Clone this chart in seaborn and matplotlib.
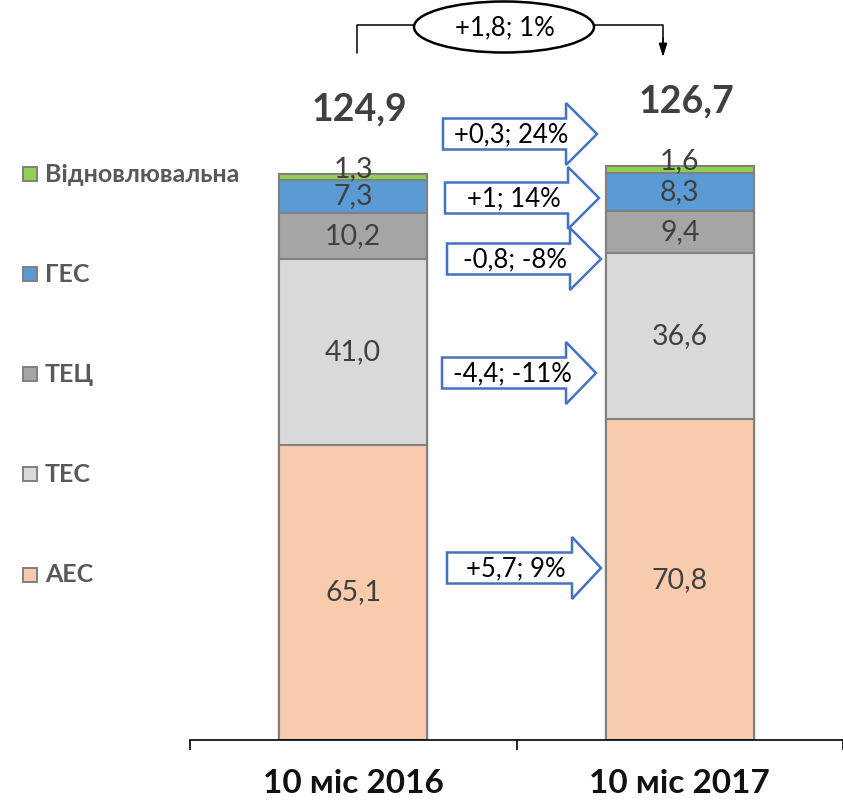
import matplotlib
matplotlib.use("Agg")
import matplotlib.pyplot as plt
import seaborn as sns
import numpy as np
from matplotlib.patches import Polygon, Ellipse, Rectangle, FancyArrowPatch
from matplotlib.transforms import Affine2D
from matplotlib.lines import Line2D

# ---------------- data ----------------
periods = ["10 міс 2016", "10 міс 2017"]
sources = ["АЕС", "ТЕС", "ТЕЦ", "ГЕС", "Відновлювальна"]
aes = [65.1, 70.8]
tes = [41.0, 36.6]
tec = [10.2, 9.4]
ges = [7.3, 8.3]
vidn = [1.3, 1.6]
totals = [124.9, 126.7]
colors = ["#F8CBAD", "#D9D9D9", "#A5A5A5", "#5B9BD5", "#92D050"]
change_labels = ["+5,7; 9%", "-4,4; -11%", "-0,8; -8%", "+1; 14%", "+0,3; 24%"]
total_change = "+1,8; 1%"

series = [aes, tes, tec, ges, vidn]

# ---------------- style ----------------
sns.set_theme(style="white")
FONT = ["Lato", "DejaVu Sans"]
plt.rcParams["font.family"] = FONT

W, H = 843, 801
fig = plt.figure(figsize=(W / 100, H / 100), dpi=100)
fig.patch.set_facecolor("white")
# pixel (top-left origin) -> display transform
T = Affine2D().scale(1 / 100, -1 / 100).translate(0, H / 100) + fig.dpi_scale_trans

AX_L, AX_R, AX_B = 190, 843, 740
PX_PER_UNIT = 4.532
CAT_STEP = 330
ax = fig.add_axes([AX_L / W, (H - AX_B) / H, (AX_R - AX_L) / W, AX_B / H])

# stacked bars drawn as overlapping cumulative bars (tallest first)
cum = np.cumsum(np.array(series), axis=0)
for k in range(len(series) - 1, -1, -1):
    sns.barplot(x=periods, y=cum[k], order=periods, color=colors[k], saturation=1,
                width=150 / CAT_STEP, edgecolor="#808080", linewidth=1.5, ax=ax,
                zorder=2)

def fmt(v):
    return f"{v:.1f}".replace(".", ",")

bottoms = np.zeros(len(periods))
for k, vals in enumerate(series):
    vals = np.array(vals)
    lift = 1.8 if k == len(series) - 1 else 0.0   # thin top segment label sits a bit higher
    for i, (b, v) in enumerate(zip(bottoms, vals)):
        ax.text(i, b + v / 2 + lift, fmt(v), ha="center", va="center", fontsize=20.5,
                color="#404040", zorder=5)
    bottoms = bottoms + vals

# totals above bars
for i, t in enumerate(totals):
    ax.text(i + 0.02, t + 14.3, fmt(t), ha="center", va="center", fontsize=27,
            fontweight="bold", color="#404040")

ax.set_xlim(-0.5, -0.5 + (AX_R - AX_L) / CAT_STEP)
ax.set_ylim(0, AX_B / PX_PER_UNIT)
for s in ["top", "right", "left"]:
    ax.spines[s].set_visible(False)
ax.spines["bottom"].set_color("black")
ax.spines["bottom"].set_linewidth(1.2)
ax.set_yticks([])
ax.set_xticks([0, 1])
ax.set_xticklabels(periods, fontsize=24, fontweight="bold", color="#111111")
ax.tick_params(axis="x", which="major", length=0, pad=21)
ax.set_xticks([-0.5, 0.5, 1.5], minor=True)
ax.tick_params(axis="x", which="minor", length=7.5, width=1.2, color="black",
               direction="out", bottom=True)
ax.set_xlabel("")
ax.set_ylabel("")

# ---------------- legend (left) ----------------
leg_rows_y = [575, 474, 374, 274, 174]
for name, col, yy in zip(sources, colors, leg_rows_y):
    fig.patches.append(Rectangle((23, yy - 7), 14, 14, facecolor=col, edgecolor="#7F7F7F",
                                 linewidth=1.4, transform=T, figure=fig))
    fig.text(45, yy, name, transform=T, ha="left", va="center", fontsize=18,
             fontweight="bold", color="#595959")

# ---------------- block arrows ----------------
arrow_geo = [  # x0, x1, tip, yc, text_x  (pixel layout)
    (447, 572, 601, 568, 516),
    (442, 566, 596, 373, 512),
    (447, 570, 601, 259, 515),
    (445, 568, 599, 198, 514),
    (443, 566, 597, 134, 511),
]
for (x0, x1, tip, yc, tx), lab in zip(arrow_geo, change_labels):
    h, Hh = 15.5, 31
    verts = [(x0, yc - h), (x1, yc - h), (x1, yc - Hh), (tip, yc), (x1, yc + Hh),
             (x1, yc + h), (x0, yc + h)]
    fig.patches.append(Polygon(verts, closed=True, facecolor="white", edgecolor="#4472C4",
                               linewidth=1.8, transform=T, figure=fig, zorder=6))
    fig.text(tx, yc + 1, lab, transform=T, ha="center", va="center", fontsize=18.5,
             color="black", zorder=7)

# ---------------- top bracket with ellipse ----------------
fig.lines.append(Line2D([357, 357, 414], [53, 25, 25], color="black", linewidth=1.1,
                        transform=T, figure=fig))
fig.lines.append(Line2D([594, 663, 663], [25, 25, 45], color="black", linewidth=1.1,
                        transform=T, figure=fig))
fig.patches.append(FancyArrowPatch((663, 38), (663, 57), arrowstyle="-|>,head_length=8,head_width=2.5",
                                   mutation_scale=1, color="black", linewidth=1.1,
                                   transform=T, figure=fig, shrinkA=0, shrinkB=0))
fig.patches.append(Ellipse((504, 27), 180, 51, facecolor="white", edgecolor="black",
                           linewidth=1.8, transform=T, figure=fig, zorder=6))
fig.text(505, 28, total_change, transform=T, ha="center", va="center", fontsize=18.5,
         color="black", zorder=7)

fig.savefig("out.png", dpi=100, facecolor="white")
